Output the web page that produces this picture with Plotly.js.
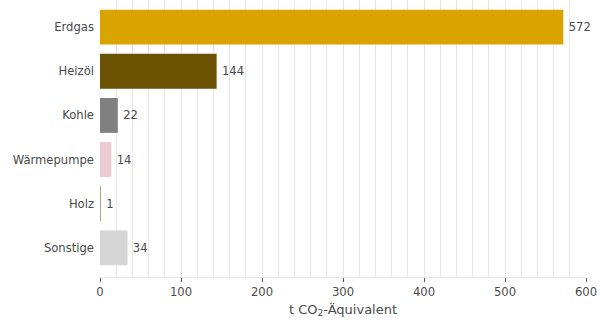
<!DOCTYPE html>
<html><head><meta charset="utf-8">
<script src="https://cdn.plot.ly/plotly-3.0.1.min.js"></script>
<style>html,body{margin:0;padding:0;background:#fff}#chart{width:614px;height:320px}</style>
</head><body><div id="chart"></div>
<script>
const categories = ["Erdgas", "Heizöl", "Kohle", "Wärmepumpe", "Holz", "Sonstige"];
const values = [572, 144, 22, 14, 1, 34];
const colors = ["#D9A400", "#6B5200", "#808080", "#EBCAD3", "#9A8F55", "#D6D6D6"];
const xTickVals = [0, 100, 200, 300, 400, 500, 600];

const trace = {
  type: "bar",
  orientation: "h",
  y: categories,
  x: values,
  marker: {color: colors, line: {width: 0}},
  text: values.map(v => "\u2009" + v),
  textposition: "outside",
  cliponaxis: false,
  textfont: {family: "DejaVu Sans", size: 11.6, color: "#4a4a4a"},
  width: 0.79,
  hoverinfo: "none"
};

const layout = {
  width: 614, height: 320,
  margin: {l: 100, r: 28, t: 0, b: 43},
  paper_bgcolor: "#fff", plot_bgcolor: "#fff",
  font: {family: "DejaVu Sans", size: 11.6, color: "#4a4a4a"},
  showlegend: false,
  xaxis: {
    range: [0, 600],
    tickvals: xTickVals,
    ticks: "outside", ticklen: 4, tickcolor: "#555", tickwidth: 1,
    showgrid: true, gridcolor: "#e6e6e6", gridwidth: 1,
    minor: {dtick: 20, showgrid: true, gridcolor: "#e6e6e6", gridwidth: 1, ticks: ""},
    showline: true, linecolor: "#e6e6e6", linewidth: 1,
    zeroline: false,
    tickfont: {family: "DejaVu Sans", size: 11.6, color: "#4a4a4a"},
    title: {text: "t CO<sub>2</sub>-Äquivalent", font: {family: "DejaVu Sans", size: 13, color: "#4a4a4a"}, standoff: 6}
  },
  yaxis: {
    type: "category",
    range: [5.66, -0.614],
    showgrid: false, zeroline: false, showline: false,
    ticks: "", ticklabelstandoff: 5,
    tickfont: {family: "DejaVu Sans", size: 11.6, color: "#4a4a4a"}
  }
};

Plotly.newPlot("chart", [trace], layout, {staticPlot: true, displayModeBar: false});
</script></body></html>
